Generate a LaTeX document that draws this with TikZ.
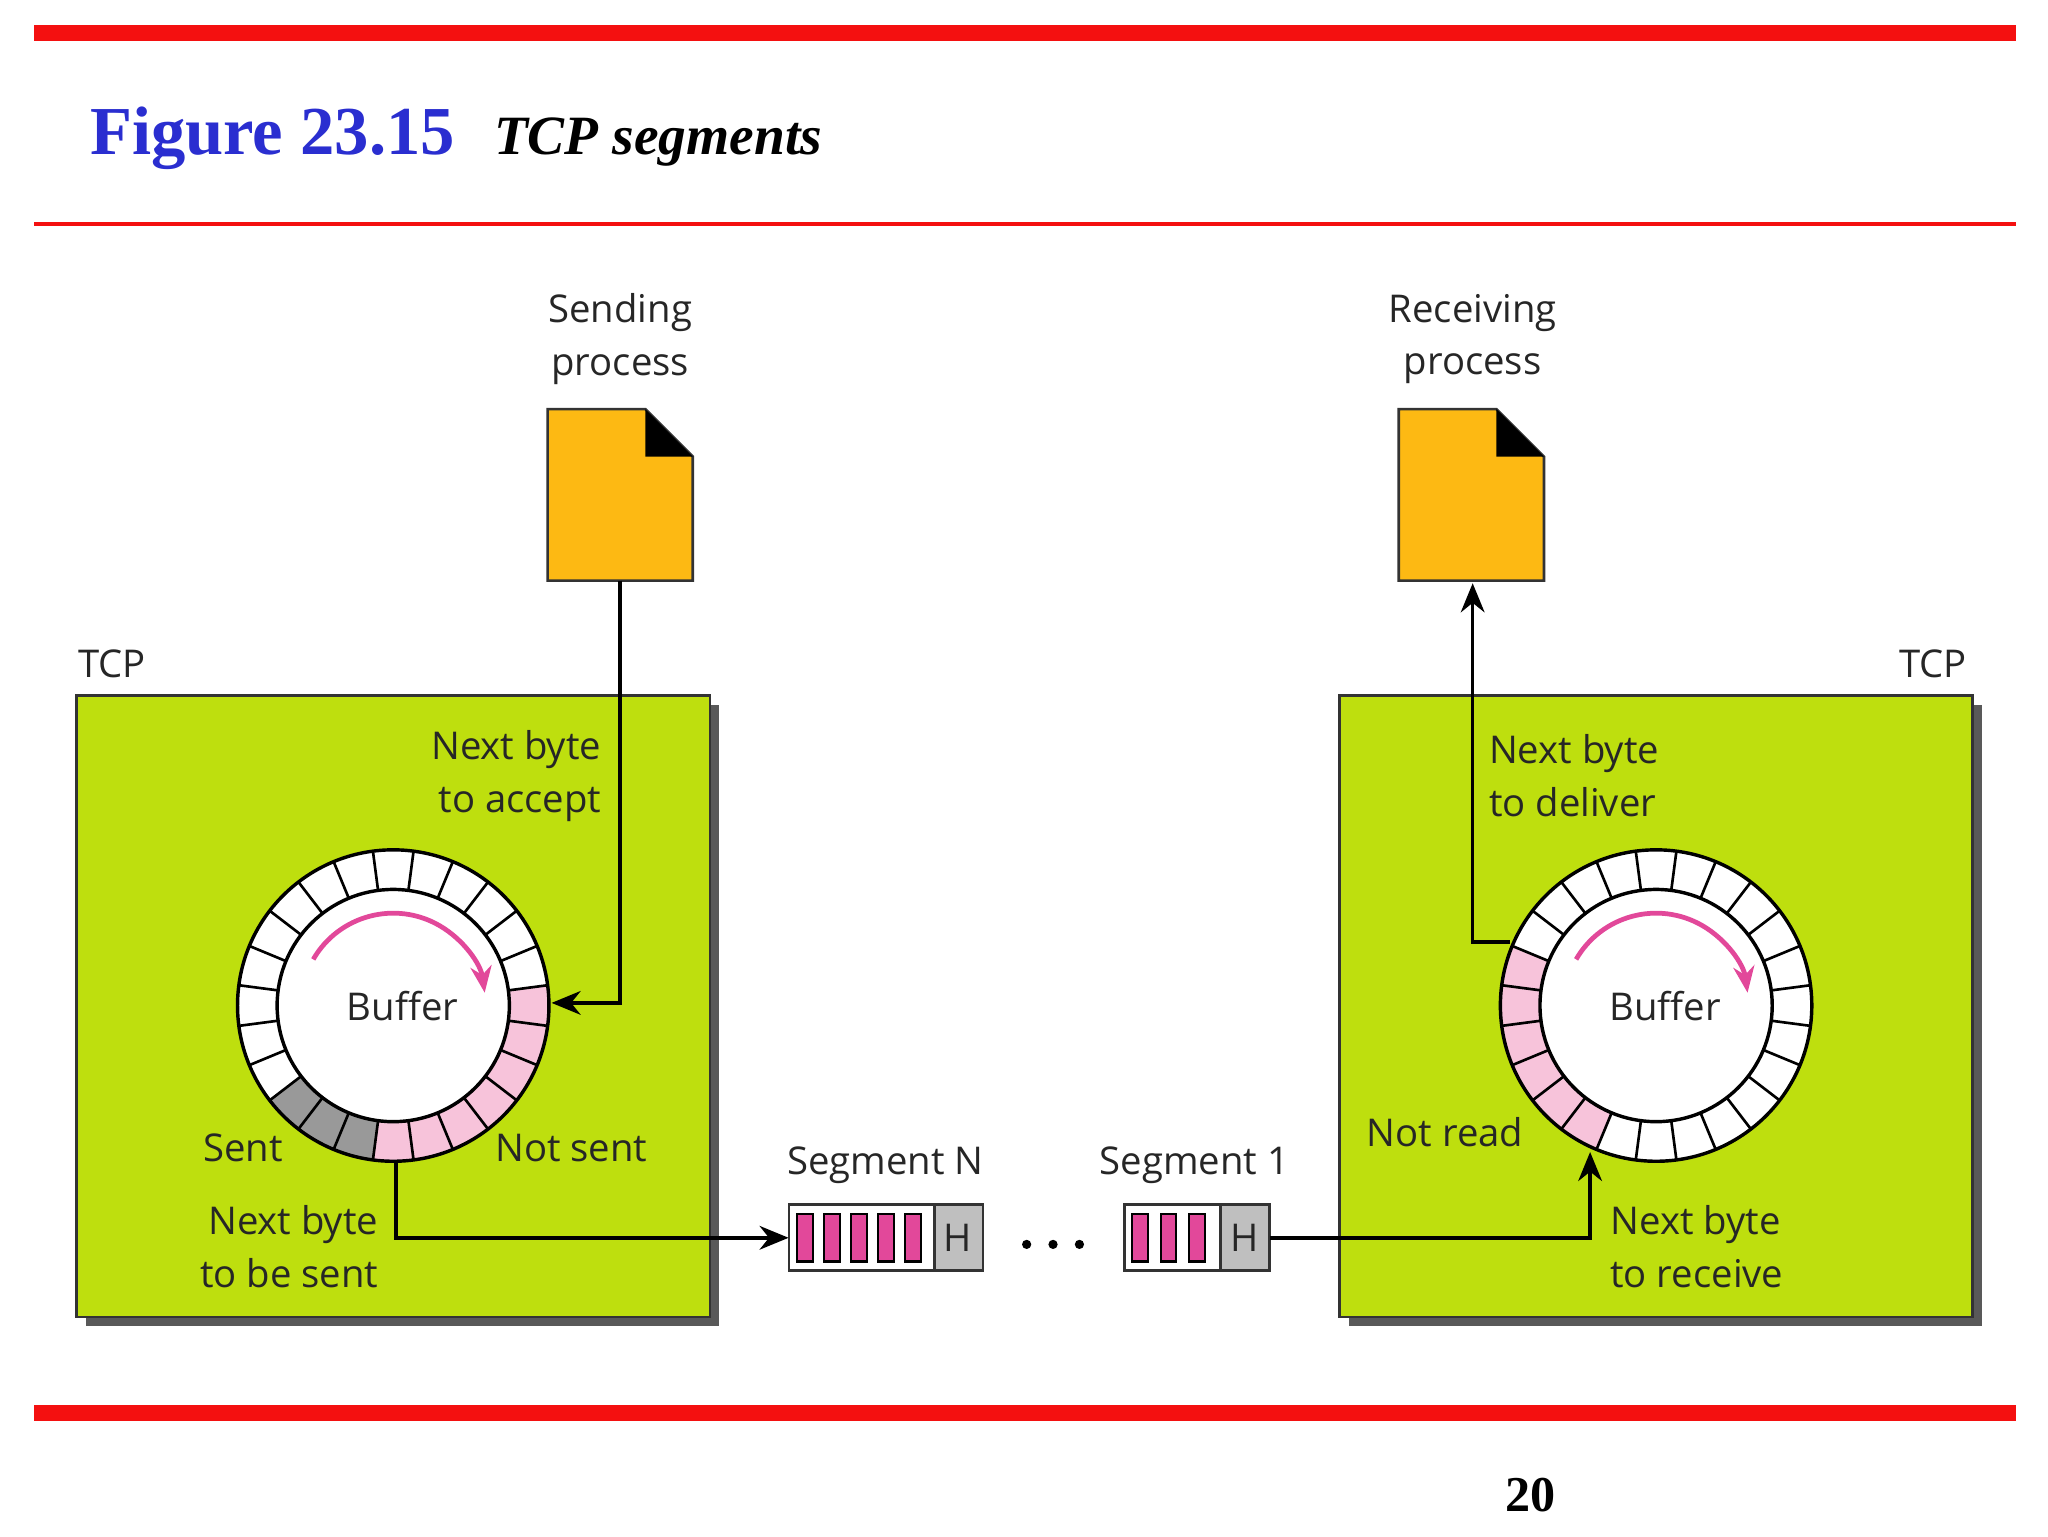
\documentclass[tikz,border=0pt]{standalone}
\usepackage{fontspec}
\setmainfont{Liberation Serif}
\newfontfamily\lab{Open Sans}
\usetikzlibrary{arrows.meta}
\definecolor{tcpgreen}{HTML}{BEDF0E}
\definecolor{docorange}{HTML}{FDB913}
\definecolor{lpink}{HTML}{F7C3DA}
\definecolor{mpink}{HTML}{E2489A}
\definecolor{figblue}{HTML}{2A2ED0}
\definecolor{redline}{HTML}{F41010}
\begin{document}
\begin{tikzpicture}[x=0.5pt,y=-0.5pt,
 lbl/.style={font=\lab\fontsize{14.5}{20}\selectfont,text=black!85,inner sep=0pt,align=center},
 conn/.style={line width=1.3pt,-{Stealth[length=11pt,width=9pt]}},
 box/.style={fill=tcpgreen,draw=black!80,line width=1pt},
 doc/.style={fill=docorange,draw=black!80,line width=1pt}]
\useasboundingbox (0,0) rectangle (1552,1164);
\fill[white] (0,0) rectangle (1552,1164);
% rules
\fill[redline] (26,19) rectangle (1528,31);
\draw[redline,line width=1.5pt] (26,170) -- (1528,170);
\fill[redline] (26,1065) rectangle (1528,1077);
\node[anchor=west,inner sep=0pt,text=figblue,font=\bfseries\fontsize{26}{30}\selectfont] (ttl) at (68,105) {Figure 23.15};
\node[anchor=west,inner sep=0pt,font=\bfseries\itshape\fontsize{21}{25}\selectfont] (sub) at (374,108) {TCP segments};
\node[inner sep=0pt,font=\bfseries\fontsize{19}{22}\selectfont] (pg) at (1160,1133) {20};
% boxes with shadow
\fill[black!65] (65,534) rectangle (545,1005);
\fill[black!65] (1022,534) rectangle (1502,1005);
\draw[box] (58,527) rectangle (538,998);
\draw[box] (1015,527) rectangle (1495,998);
\node[lbl] (tcpL) at (85,503) {TCP};
\node[lbl] (tcpR) at (1465,503) {TCP};
% documents
\draw[doc] (415,310) -- (489,310) -- (525,346) -- (525,440) -- (415,440) -- cycle;
\fill[black] (489,310) -- (525,346) -- (489,346) -- cycle;
\draw[doc] (1060,310) -- (1134,310) -- (1170,346) -- (1170,440) -- (1060,440) -- cycle;
\fill[black] (1134,310) -- (1170,346) -- (1134,346) -- cycle;
\coordinate (docL) at (470,440);
\coordinate (docR) at (1116,442);
\node[lbl] (sp) at (470,257) {Sending\\process};
\node[lbl] (rp) at (1116,257) {Receiving\\process};
% left buffer
\begin{scope}[shift={(298,762)},y=0.5pt]
 \fill[white] (0,0) circle (118);
 \fill[lpink] (-97.5:118) arc[start angle=-97.5,end angle=7.5,radius=118] -- (7.5:88) arc[start angle=7.5,end angle=-97.5,radius=88] -- cycle;
 \fill[black!40] (-142.5:118) arc[start angle=-142.5,end angle=-97.5,radius=118] -- (-97.5:88) arc[start angle=-97.5,end angle=-142.5,radius=88] -- cycle;
 \foreach \i in {0,...,23} {\draw[line width=1pt] ({7.5+15*\i}:88) -- ({7.5+15*\i}:118);}
 \draw[line width=1.3pt] (0,0) circle (118) (0,0) circle (88);
 \draw[mpink,line width=1.8pt,-{Stealth[length=10pt,width=8pt]}] (150:70) arc[start angle=150,end angle=8,radius=70];
\end{scope}
\node[lbl] (bufL) at (305,762) {Buffer};
\coordinate (inL) at (418,760);
\coordinate (outL) at (300,880);
% right buffer
\begin{scope}[shift={(1255,762)},y=0.5pt]
 \fill[white] (0,0) circle (118);
 \fill[lpink] (157.5:118) arc[start angle=157.5,end angle=247.5,radius=118] -- (247.5:88) arc[start angle=247.5,end angle=157.5,radius=88] -- cycle;
 \foreach \i in {0,...,23} {\draw[line width=1pt] ({7.5+15*\i}:88) -- ({7.5+15*\i}:118);}
 \draw[line width=1.3pt] (0,0) circle (118) (0,0) circle (88);
 \draw[mpink,line width=1.8pt,-{Stealth[length=10pt,width=8pt]}] (150:70) arc[start angle=150,end angle=8,radius=70];
\end{scope}
\node[lbl] (bufR) at (1262,762) {Buffer};
\coordinate (outR) at (1144,714);
\coordinate (inR) at (1205,873);
% labels
\node[lbl,align=right,anchor=east] (nba) at (456,588) {Next byte\\to accept};
\node[lbl,align=left,anchor=west] (nbd) at (1128,588) {Next byte\\to deliver};
\node[lbl] (sent) at (184,870) {Sent};
\node[lbl] (ns) at (433,870) {Not sent};
\node[lbl,align=right,anchor=east] (nbs) at (287,945) {Next byte\\to be sent};
\node[lbl,align=left,anchor=west] (nbr) at (1220,945) {Next byte\\to receive};
\node[lbl] (nr) at (1095,858) {Not read};
\node[lbl] (sgN) at (671,883) {Segment N};
\node[lbl] (sg1) at (905,883) {Segment 1};
% segments
\node[minimum width=73.5pt,minimum height=25pt,inner sep=0pt] (segN) at (671.5,938) {};
\fill[white] (598,913) rectangle (708,963);
\fill[black!25] (708,913) rectangle (745,963);
\draw[black!80,line width=1pt] (598,913) rectangle (745,963) (708,913) -- (708,963);
\foreach \k in {0,...,4} {\draw[fill=mpink,line width=0.8pt] (604+\k*20.5,920) rectangle (616+\k*20.5,956);}
\node[lbl] at (726,938) {H};
\node[minimum width=55pt,minimum height=25pt,inner sep=0pt] (seg1) at (907,938) {};
\fill[white] (852,913) rectangle (925,963);
\fill[black!25] (925,913) rectangle (962,963);
\draw[black!80,line width=1pt] (852,913) rectangle (962,963) (925,913) -- (925,963);
\foreach \k in {0,...,2} {\draw[fill=mpink,line width=0.8pt] (858+\k*21.5,920) rectangle (870+\k*21.5,956);}
\node[lbl] at (943,938) {H};
\foreach \x in {778,798,818} {\fill (\x,943) circle (3.5);}
% connectors
\draw[conn] (docL) -- (470,760) -- (inL);
\draw[conn] (outL) -- (300,938) -- (segN.west);
\draw[conn] (seg1.east) -- (1205,938) -- (inR);
\draw[conn] (outR) -- (1116,714) -- (docR);
\end{tikzpicture}
\end{document}
